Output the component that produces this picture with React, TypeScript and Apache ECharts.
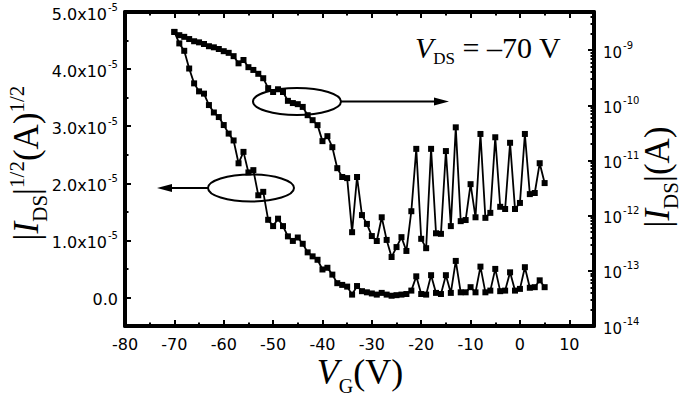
import React, { useEffect, useRef } from "react";
import * as echarts from "echarts";

// Gate voltage V_G (V)
const vg = [
  -70, -69, -68, -67, -66, -65, -64, -63, -62, -61, -60, -59, -58, -57, -56, -55, -54, -53, -52, -51,
  -50, -49, -48, -47, -46, -45, -44, -43, -42, -41, -40, -39, -38, -37, -36, -35, -34, -33, -32, -31,
  -30, -29, -28, -27, -26, -25, -24, -23, -22, -21, -20, -19, -18, -17, -16, -15, -14, -13, -12, -11,
  -10, -9, -8, -7, -6, -5, -4, -3, -2, -1, 0, 1, 2, 3, 4, 5,
];

// |I_DS|^(1/2) in units of 1e-5 A^(1/2) (left axis)
const sqrtIds = [
  4.65, 4.45, 4.32, 4.01, 3.75, 3.61, 3.57, 3.37, 3.24, 3.16, 3.02, 2.87, 2.75, 2.35, 2.55, 2.19, 2.23, 1.79, 1.85, 1.36,
  1.25, 1.38, 1.25, 1.07, 0.99, 1.05, 0.94, 0.79, 0.72, 0.66, 0.49, 0.52, 0.4, 0.25, 0.22, 0.19, 0.05, 0.2, 0.11, 0.09,
  0.07, 0.05, 0.08, 0.05, 0.03, 0.04, 0.05, 0.06, 0.12, 0.37, 0.06, 0.05, 0.39, 0.08, 0.06, 0.39, 0.08, 0.64, 0.09, 0.09,
  0.18, 0.09, 0.54, 0.09, 0.12, 0.5, 0.11, 0.12, 0.44, 0.12, 0.15, 0.53, 0.17, 0.18, 0.3, 0.18,
];

// log10(|I_DS| / A) (right axis)
const logIds = [
  -8.67, -8.73, -8.76, -8.8, -8.84, -8.86, -8.89, -8.93, -8.95, -8.98, -9.02, -9.05, -9.11, -9.24, -9.18, -9.31, -9.36, -9.43, -9.51, -9.69,
  -9.76, -9.71, -9.76, -9.92, -9.96, -9.98, -10.03, -10.18, -10.27, -10.36, -10.65, -10.56, -10.76, -11.14, -11.3, -11.32, -12.3, -11.3, -11.99, -12.15,
  -12.37, -12.46, -12.03, -12.44, -12.75, -12.57, -12.39, -12.64, -11.92, -10.79, -12.42, -12.59, -10.79, -12.32, -12.33, -10.83, -12.19, -10.4, -12.1, -12.08,
  -11.43, -12.03, -10.52, -12.04, -11.95, -10.58, -11.84, -11.88, -10.68, -11.88, -11.77, -10.52, -11.61, -11.59, -11.05, -11.41,
];

const leftTickValues = [0, 1, 2, 3, 4, 5];
const rightDecades = [-14, -13, -12, -11, -10, -9];

const X_MIN = -80;
const X_MAX = 15;
const L_MIN = -0.5;
const L_MAX = 5.0;
const R_MIN = -14;
const R_MAX = -8.31;

const labelFont = "DejaVu Sans";
const serif = "Liberation Serif";

export default function App() {
  const ref = useRef<HTMLDivElement>(null);
  useEffect(() => {
    const chart = echarts.init(ref.current!, null, { renderer: "svg" });

    const rightMinor: number[] = [];
    for (let d = -14; d <= -9; d++) {
      for (let k = 2; k <= 9; k++) {
        const v = d + Math.log10(k);
        if (v < R_MAX) rightMinor.push(v);
      }
    }

    const spine = { show: true, onZero: false, lineStyle: { color: "#000", width: 4 } };
    const noLine = { show: false, onZero: false };
    const majorTick = { show: true, inside: true, length: 6, lineStyle: { color: "#000", width: 2 } };
    const minorTickAxis = { show: true, inside: true, length: 3.5, lineStyle: { color: "#000", width: 2 } };
    const supRich = {
      m: { fontFamily: labelFont, fontSize: 16, color: "#000", lineHeight: 20, verticalAlign: "bottom" },
      s: { fontFamily: labelFont, fontSize: 10, color: "#000", lineHeight: 20, verticalAlign: "top", padding: [0, 0, 0, 1] },
    };

    const baseX = (pos: string, labels: boolean, interval: number, tick: any, line: boolean) => ({
      type: "value",
      position: pos,
      min: X_MIN,
      max: X_MAX,
      interval,
      axisLine: line ? spine : noLine,
      axisTick: tick,
      splitLine: { show: false },
      axisLabel: labels
        ? {
            show: true,
            margin: 10,
            fontFamily: labelFont,
            fontSize: 16,
            color: "#000",
            showMaxLabel: false,
            formatter: (v: number) => (v % 10 === 0 ? String(v) : ""),
          }
        : { show: false },
    });

    const serifRich = (size: number, subSize: number, lh: number) => ({
      b: { fontFamily: serif, fontSize: size, color: "#000", lineHeight: lh, verticalAlign: "bottom" },
      i: { fontFamily: serif, fontStyle: "italic", fontSize: size, color: "#000", lineHeight: lh, verticalAlign: "bottom" },
      sub: { fontFamily: serif, fontSize: subSize, color: "#000", lineHeight: lh, verticalAlign: "bottom", padding: [0, 0, -Math.round(size * 0.18), 0] },
      sup: { fontFamily: serif, fontSize: subSize, color: "#000", lineHeight: lh, verticalAlign: "top" },
      n: { fontFamily: serif, fontSize: size, color: "#000", lineHeight: lh, verticalAlign: "bottom" },
    });

    const option: any = {
      animation: false,
      backgroundColor: "#fff",
      grid: { left: 125, right: 87, top: 12, bottom: 71, containLabel: false },
      xAxis: [
        baseX("bottom", true, 10, majorTick, true),
        baseX("bottom", false, 5, minorTickAxis, false),
        baseX("top", false, 10, majorTick, true),
        baseX("top", false, 5, minorTickAxis, false),
      ],
      yAxis: [
        {
          type: "value",
          position: "left",
          min: L_MIN,
          max: L_MAX,
          interval: 0.5,
          axisLine: spine,
          axisTick: { ...majorTick, customValues: leftTickValues },
          splitLine: { show: false },
          axisLabel: {
            show: true,
            margin: 7,
            customValues: leftTickValues,
            formatter: (v: number) => {
              if (Math.abs(v) < 1e-9) return "{m|0.0}";
              return `{m|${v.toFixed(1)}x10}{s|-5}`;
            },
            rich: supRich,
          },
        },
        {
          type: "value",
          position: "right",
          min: R_MIN,
          max: R_MAX,
          interval: 1,
          axisLine: spine,
          axisTick: { ...majorTick, customValues: rightDecades },
          splitLine: { show: false },
          axisLabel: {
            show: true,
            margin: 9,
            customValues: rightDecades,
            formatter: (v: number) => `{m|10}{s|${v}}`,
            rich: {
              m: { ...supRich.m, fontSize: 15 },
              s: supRich.s,
            },
          },
        },
        {
          type: "value",
          position: "left",
          min: L_MIN,
          max: L_MAX,
          interval: 0.5,
          axisLine: noLine,
          axisTick: minorTickAxis,
          splitLine: { show: false },
          axisLabel: { show: false },
        },
        {
          type: "value",
          position: "right",
          min: R_MIN,
          max: R_MAX,
          interval: 1,
          axisLine: noLine,
          axisTick: { ...minorTickAxis, customValues: rightMinor },
          splitLine: { show: false },
          axisLabel: { show: false },
        },
      ],
      series: [
        {
          type: "line",
          name: "sqrt",
          xAxisIndex: 0,
          yAxisIndex: 0,
          data: vg.map((x, i) => [x, sqrtIds[i]]),
          symbol: "rect",
          symbolSize: 6,
          lineStyle: { color: "#000", width: 1.8 },
          itemStyle: { color: "#000" },
          z: 3,
        },
        {
          type: "line",
          name: "log",
          xAxisIndex: 0,
          yAxisIndex: 1,
          data: vg.map((x, i) => [x, logIds[i]]),
          symbol: "rect",
          symbolSize: 6,
          lineStyle: { color: "#000", width: 1.8 },
          itemStyle: { color: "#000" },
          z: 3,
        },
      ],
      graphic: [
        // annotation ellipses and arrows
        { type: "ellipse", shape: { cx: 297, cy: 101.5, rx: 44, ry: 13.5 }, style: { fill: "none", stroke: "#000", lineWidth: 2 }, z: 10 },
        { type: "line", shape: { x1: 341, y1: 101.5, x2: 437, y2: 101.5 }, style: { stroke: "#000", lineWidth: 2 }, z: 10 },
        { type: "polygon", shape: { points: [[449, 101.5], [434, 97.5], [434, 105.5]] }, style: { fill: "#000" }, z: 10 },
        { type: "ellipse", shape: { cx: 251, cy: 188, rx: 43, ry: 13.5 }, style: { fill: "none", stroke: "#000", lineWidth: 2 }, z: 10 },
        { type: "line", shape: { x1: 208, y1: 188, x2: 170, y2: 188 }, style: { stroke: "#000", lineWidth: 2 }, z: 10 },
        { type: "polygon", shape: { points: [[157, 188], [172, 184], [172, 192]] }, style: { fill: "#000" }, z: 10 },
        // V_DS annotation
        {
          type: "text",
          x: 415,
          y: 46,
          style: {
            text: "{i|V}{sub|DS}{n| = –70 V}",
            verticalAlign: "middle",
            align: "left",
            rich: serifRich(30, 17, 32),
          },
          z: 10,
        },
        // x-axis title
        {
          type: "text",
          x: 360,
          y: 373,
          style: {
            text: "{i|V}{sub|G}{n|(V)}",
            align: "center",
            verticalAlign: "middle",
            rich: serifRich(36, 20, 34),
          },
          z: 10,
        },
        // left y-axis title
        {
          type: "text",
          x: 25,
          y: 163,
          rotation: Math.PI / 2,
          style: {
            text: "{b||}{i|I}{sub|DS}{b||}{sup|1/2}{n|(A)}{sup|1/2}",
            align: "center",
            verticalAlign: "middle",
            rich: serifRich(35, 21, 38),
          },
          z: 10,
        },
        // right y-axis title
        {
          type: "text",
          x: 656,
          y: 177,
          rotation: Math.PI / 2,
          style: {
            text: "{b||}{i|I}{sub|DS}{b||}{n|(A)}",
            align: "center",
            verticalAlign: "middle",
            rich: serifRich(35, 21, 38),
          },
          z: 10,
        },
      ],
    };

    chart.setOption(option);
    return () => chart.dispose();
  }, []);

  return <div ref={ref} style={{ position: "fixed", left: 0, top: 0, width: 681, height: 397 }} />;
}
